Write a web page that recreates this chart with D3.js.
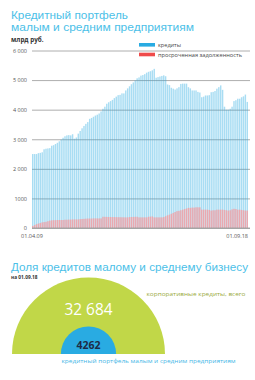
<!DOCTYPE html>
<html><head><meta charset="utf-8">
<script src="https://cdn.jsdelivr.net/npm/d3@7"></script>
<style>
html,body{margin:0;padding:0;background:#fff;}
svg{display:block;font-family:"Open Sans","Noto Sans",sans-serif;}
</style></head>
<body>
<svg id="c" width="255" height="380"></svg>
<script>
// ---- data ----
const credits = [
  2500,2500,2500,2530,2540,2560,2660,2680,2690,2700,
  2780,2800,2840,2880,2930,2990,3050,3100,3130,3140,
  3130,3170,3020,3060,3190,3280,3370,3450,3520,3580,
  3690,3720,3760,3800,3830,3870,3940,4030,4100,4200,
  4250,4290,4330,4390,4440,4490,4500,4550,4550,4650,
  4720,4790,4860,4920,4990,5060,5090,5150,5170,5200,
  5250,5280,5300,5330,5380,5080,5100,5120,5140,5160,
  5130,4850,4830,4740,4710,4680,4720,4760,4870,4880,
  4880,4880,4760,4720,4650,4650,4650,4600,4580,4420,
  4440,4480,4480,4490,4590,4600,4630,4710,4760,4820,
  4670,4100,4000,4000,4030,4100,4290,4320,4370,4370,
  4420,4450,4510,4262
];
const overdue = [
  70,100,130,150,170,190,200,210,230,250,
  260,265,265,270,270,270,270,280,280,285,
  285,290,290,290,290,300,305,310,315,320,
  320,320,325,325,325,325,325,380,378,375,
  373,372,370,370,368,366,365,363,362,360,
  360,370,372,375,378,380,360,360,360,360,
  360,380,385,390,360,360,360,360,360,370,
  400,430,450,480,510,540,570,580,600,620,
  640,660,680,680,690,690,700,700,700,620,
  620,620,620,610,590,600,600,620,620,620,
  620,610,600,590,600,630,650,640,620,620,
  610,600,590,590
];
const months = d3.utcMonth.range(new Date(Date.UTC(2009,3,1)), new Date(Date.UTC(2018,8,2)));
const yTicks = [0,1000,2000,3000,4000,5000,6000];
const yTickLabels = ["0","1000","2 000","3 000","4 000","5 000","6 000"];
const xTickLabels = ["01.04.09","01.09.18"];
const legendLabels = ["кредиты","просроченная задолженность"];
const shareTotal = 32684;
const shareSme = 4262;
const shareLabels = ["32 684","4262"];
const shareCaptions = ["корпоративные кредиты, всего","кредитный портфель малым и средним предприятиям"];

const svg = d3.select("#c");
const blue = "#29abe2", red = "#ef4b4b", titleBlue = "#4cbfe8";

// title (two lines)
const titleLines = ["Кредитный портфель","малым и средним предприятиям"];
const titleLens = [117, 183];
titleLines.forEach((s,i)=>{
  svg.append("text").attr("x",11).attr("y",19.3 + i*12).attr("fill",titleBlue)
    .attr("font-family","Liberation Sans, Arial, sans-serif").attr("font-size",10.3)
    .attr("textLength",titleLens[i]).attr("lengthAdjust","spacingAndGlyphs").text(s);
});
svg.append("text").attr("x",11).attr("y",41.5).attr("fill","#333")
  .attr("font-size",6.3).attr("font-weight","bold").text("млрд руб.");

// chart
const x0 = 32, x1 = 248, y0 = 228, y1 = 50.5;
const x = d3.scaleBand().domain(months).range([x0, x1]).paddingInner(0.25).paddingOuter(0);
const y = d3.scaleLinear().domain([0, 6000]).range([y0, y1]);

const ax = svg.append("g").attr("transform",`translate(${x0},0)`)
  .call(d3.axisLeft(y).tickValues(yTicks).tickSize(-(250 - x0)).tickPadding(5)
    .tickFormat((d,i)=>yTickLabels[i]));
ax.select(".domain").remove();
ax.selectAll(".tick line").attr("stroke","#999").attr("stroke-width",0.8);
ax.selectAll(".tick text").attr("fill","#555").attr("font-size",5.5).attr("font-family","Open Sans, sans-serif");

svg.append("g").selectAll("rect").data(credits).join("rect")
  .attr("x",(d,i)=>x(months[i])).attr("width",x.bandwidth())
  .attr("y",d=>y(d)).attr("height",d=>y0 - y(d))
  .attr("fill",blue).attr("fill-opacity",0.4);
svg.append("g").selectAll("rect").data(overdue).join("rect")
  .attr("x",(d,i)=>x(months[i])).attr("width",x.bandwidth())
  .attr("y",d=>y(d)).attr("height",d=>y0 - y(d))
  .attr("fill","#e9a9b0");
svg.append("line").attr("x1",x0).attr("x2",250).attr("y1",y0).attr("y2",y0)
  .attr("stroke","#999").attr("stroke-width",0.8);

// x labels
svg.append("text").attr("x",x(months[0])).attr("y",238).attr("text-anchor","middle")
  .attr("font-size",5.5).attr("fill","#555").text(xTickLabels[0]);
svg.append("text").attr("x",x(months[months.length-1])+x.bandwidth()).attr("y",238).attr("text-anchor","end")
  .attr("font-size",5.5).attr("fill","#555").text(xTickLabels[1]);

// legend
const leg = svg.append("g");
const legLens = [23, 84];
[blue, red].forEach((c,i)=>{
  leg.append("rect").attr("x",139).attr("y",43 + i*9.7).attr("width",16).attr("height",3.6).attr("fill",c);
  leg.append("text").attr("x",158).attr("y",47.3 + i*9.7).attr("font-size",5.2).attr("fill","#444")
    .attr("textLength",legLens[i]).attr("lengthAdjust","spacingAndGlyphs")
    .text(legendLabels[i]);
});

// section 2
svg.append("text").attr("x",11).attr("y",270.5).attr("fill",titleBlue)
  .attr("font-family","Liberation Sans, Arial, sans-serif")
  .attr("font-size",10.8).attr("textLength",237).attr("lengthAdjust","spacingAndGlyphs")
  .text("Доля кредитов малому и среднему бизнесу");
svg.append("text").attr("x",11).attr("y",278.5).attr("fill","#333")
  .attr("font-size",4.8).attr("font-weight","bold").text("на 01.09.18");

const cx = 88.5, cy = 354, R = 76.5;
const r = d3.scaleSqrt().domain([0, shareTotal]).range([0, R]);
const arc = d3.arc().startAngle(-Math.PI/2).endAngle(Math.PI/2).innerRadius(0);
const g2 = svg.append("g").attr("transform",`translate(${cx},${cy})`);
g2.append("path").attr("d",arc.outerRadius(r(shareTotal))()).attr("fill","#c1d748");
g2.append("path").attr("d",arc.outerRadius(r(shareSme))()).attr("fill",blue);
g2.append("text").attr("x",0).attr("y",-39).attr("text-anchor","middle").attr("fill","#fff")
  .attr("font-size",16).attr("textLength",48).attr("lengthAdjust","spacingAndGlyphs").text(shareLabels[0]);
g2.append("text").attr("x",0).attr("y",-4.7).attr("text-anchor","middle").attr("fill","#1d2b48")
  .attr("font-size",10.5).attr("font-weight","bold").text(shareLabels[1]);

svg.append("text").attr("x",146.5).attr("y",296).attr("fill","#9aaa3c")
  .attr("font-size",5.3).attr("textLength",99).attr("lengthAdjust","spacingAndGlyphs").text(shareCaptions[0]);
svg.append("text").attr("x",61.5).attr("y",362.5).attr("fill","#3fb6e6")
  .attr("font-size",5.3).attr("textLength",174).attr("lengthAdjust","spacingAndGlyphs").text(shareCaptions[1]);
</script>
</body></html>
